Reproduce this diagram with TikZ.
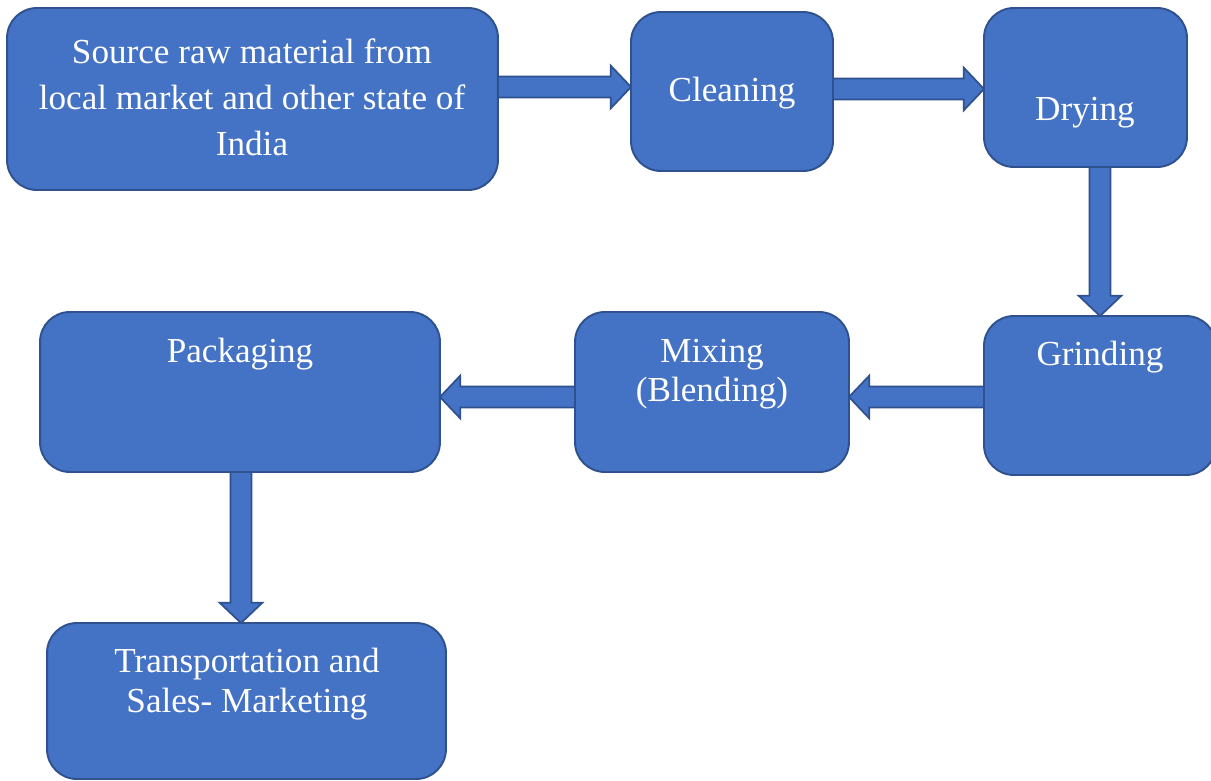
\documentclass[tikz,border=0pt]{standalone}
\usepackage{fontspec}
\setmainfont{Liberation Serif}
\usetikzlibrary{calc}
\definecolor{boxfill}{HTML}{4472C4}
\definecolor{boxline}{HTML}{2F528F}
\tikzset{
  procbox/.style={draw=boxline, fill=boxfill, line width=1.1pt, rounded corners=17pt, inner sep=0pt, outer sep=0pt},
  lbl/.style={text=white, font=\fontsize{20}{24}\selectfont, anchor=base, inner sep=0pt},
  blockarrow/.style={draw=boxline, fill=boxfill, line width=1pt, line join=miter}
}
% horizontal block arrow: #1 start, #2 tip
\newcommand\harrowblk[2]{%
  \draw[blockarrow] let \p1=#1, \p2=#2, \n1={ifthenelse(\x2>\x1,1,-1)} in
    (\x1,{\y1+6pt}) -- ({\x2-\n1*11.6pt},{\y1+6pt}) -- ({\x2-\n1*11.6pt},{\y1+12.2pt})
    -- (\x2,\y1) -- ({\x2-\n1*11.6pt},{\y1-12.2pt}) -- ({\x2-\n1*11.6pt},{\y1-6pt})
    -- (\x1,{\y1-6pt}) -- cycle;}
% vertical block arrow: #1 start, #2 tip
\newcommand\varrowblk[2]{%
  \draw[blockarrow] let \p1=#1, \p2=#2, \n1={ifthenelse(\y2>\y1,1,-1)} in
    ({\x1+6pt},\y1) -- ({\x1+6pt},{\y2-\n1*11.6pt}) -- ({\x1+12.2pt},{\y2-\n1*11.6pt})
    -- (\x1,\y2) -- ({\x1-12.2pt},{\y2-\n1*11.6pt}) -- ({\x1-6pt},{\y2-\n1*11.6pt})
    -- ({\x1-6pt},\y1) -- cycle;}
\begin{document}
\begin{tikzpicture}[x=0.02cm, y=-0.02cm]
\useasboundingbox[fill=white] (0,0) rectangle (1211,781);
% boxes
\node[procbox, minimum width=9.82cm, minimum height=3.64cm] (src) at (252.5,99) {};
\node[procbox, minimum width=4.04cm, minimum height=3.18cm] (clean) at (732,91.5) {};
\node[procbox, minimum width=4.06cm, minimum height=3.18cm] (dry) at (1085.5,87.5) {};
\node[procbox, minimum width=4.64cm, minimum height=3.18cm] (grind) at (1100,395.5) {};
\node[procbox, minimum width=5.48cm, minimum height=3.20cm] (mix) at (712,392) {};
\node[procbox, minimum width=8.00cm, minimum height=3.20cm] (pack) at (240,392) {};
\node[procbox, minimum width=7.98cm, minimum height=3.12cm] (trans) at (246.5,701) {};
% labels
\node[lbl] (t1a) at (252,63) {Source raw material from};
\node[lbl] (t1b) at (252,109) {local market and other state of};
\node[lbl] (t1c) at (252,155) {India};
\node[lbl] (t2) at (732,101) {Cleaning};
\node[lbl] (t3) at (1085,120) {Drying};
\node[lbl] (t4) at (1100,365) {Grinding};
\node[lbl] (t5a) at (712,362) {Mixing};
\node[lbl] (t5b) at (712,401) {(Blending)};
\node[lbl] (t6) at (240,362) {Packaging};
\node[lbl] (t7a) at (247,672) {Transportation and};
\node[lbl] (t7b) at (247,712) {Sales- Marketing};
% arrows
\harrowblk{(src.east |- 0,87)}{(clean.west |- 0,87)}
\harrowblk{(clean.east |- 0,89)}{(dry.west |- 0,89)}
\varrowblk{(dry.south -| 1100,0)}{(grind.north -| 1100,0)}
\harrowblk{(grind.west |- 0,397)}{(mix.east |- 0,397)}
\harrowblk{(mix.west |- 0,397)}{(pack.east |- 0,397)}
\varrowblk{(pack.south -| 241,0)}{(trans.north -| 241,0)}
\end{tikzpicture}
\end{document}
